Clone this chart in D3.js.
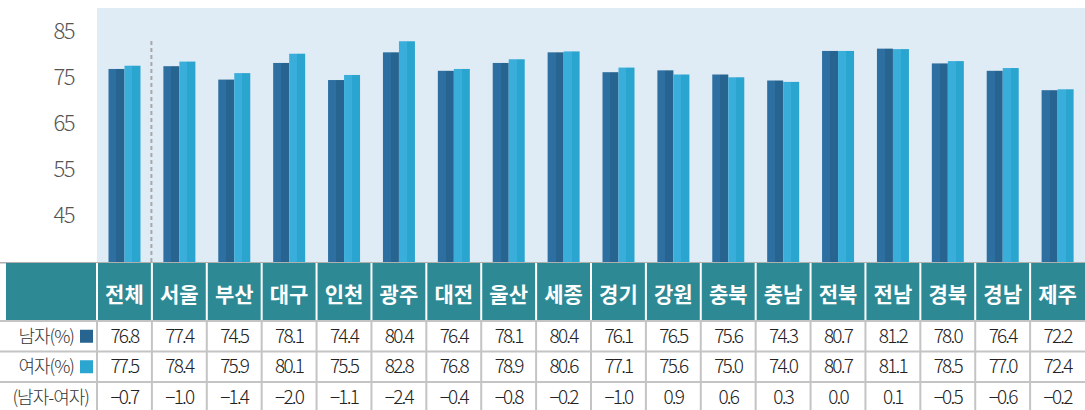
<!DOCTYPE html>
<html><head><meta charset="utf-8">
<script src="https://cdn.jsdelivr.net/npm/d3@7"></script>
<style>
html,body{margin:0;padding:0;background:#fff;}
svg{display:block;font-family:"Noto Sans CJK KR","Noto Sans",sans-serif;}
</style></head>
<body><svg id="c" width="1085" height="410"></svg>
<script>
const categories = ["전체","서울","부산","대구","인천","광주","대전","울산","세종","경기","강원","충북","충남","전북","전남","경북","경남","제주"];
const male   = [76.8,77.4,74.5,78.1,74.4,80.4,76.4,78.1,80.4,76.1,76.5,75.6,74.3,80.7,81.2,78.0,76.4,72.2];
const female = [77.5,78.4,75.9,80.1,75.5,82.8,76.8,78.9,80.6,77.1,75.6,75.0,74.0,80.7,81.1,78.5,77.0,72.4];
const diffLabels = ["−0.7","−1.0","−1.4","−2.0","−1.1","−2.4","−0.4","−0.8","−0.2","−1.0","0.9","0.6","0.3","0.0","0.1","−0.5","−0.6","−0.2"];
const yTicks = [45,55,65,75,85];
const seriesNames = ["남자(%)","여자(%)"];
const rowLabel3 = "(남자-여자)";

const svg = d3.select("#c");
const W = 1085, H = 410;
const plotL = 97, plotT = 8, plotB = 262;

const x = d3.scaleBand().domain(categories).range([plotL, W]).padding(0);
const xs = d3.scaleBand().domain(seriesNames).range([11.5, 43.5]).padding(0);
const y = d3.scaleLinear().domain([35, 90]).range([plotB, plotT]);

const defs = svg.append("defs");
function grad(id, c1, c2){
  const g = defs.append("linearGradient").attr("id", id).attr("x1","0").attr("x2","1").attr("y1","0").attr("y2","0");
  g.append("stop").attr("offset","0%").attr("stop-color",c1);
  g.append("stop").attr("offset","50%").attr("stop-color",c1);
  g.append("stop").attr("offset","50%").attr("stop-color",c2);
  g.append("stop").attr("offset","100%").attr("stop-color",c2);
}
grad("gm", "#2d6fa0", "#27648f");
grad("gf", "#3aaedb", "#2aa5cf");

svg.append("rect").attr("x", plotL).attr("y", plotT).attr("width", W - plotL).attr("height", plotB - plotT).attr("fill", "#dfebf5");

const yAxis = d3.axisLeft(y).tickValues(yTicks).tickSize(0).tickPadding(0);
const gy = svg.append("g").attr("transform", "translate(74,0)").call(yAxis);
gy.select(".domain").remove();
gy.selectAll("text").attr("font-size", 22).attr("fill", "#555").attr("font-weight", 300)
  .attr("letter-spacing", "-1.5px").attr("font-family", "'Noto Sans CJK KR',sans-serif");

const data = categories.map((c,i)=>({c, v:[male[i], female[i]]}));
const groups = svg.append("g").selectAll("g").data(data).join("g")
  .attr("transform", d => `translate(${x(d.c)},0)`);
groups.selectAll("rect").data(d => d.v.map((v,j)=>({s: seriesNames[j], v, j}))).join("rect")
  .attr("x", d => xs(d.s)).attr("width", xs.bandwidth())
  .attr("y", d => y(d.v)).attr("height", d => plotB - y(d.v))
  .attr("fill", d => d.j === 0 ? "url(#gm)" : "url(#gf)");

svg.append("line").attr("x1", x(categories[1]) - 0.5).attr("x2", x(categories[1]) - 0.5)
  .attr("y1", 41).attr("y2", plotB).attr("stroke", "#a8a8a8").attr("stroke-width", 2).attr("stroke-dasharray", "4,3");

svg.append("rect").attr("x", 0).attr("y", plotB).attr("width", W).attr("height", 1.5).attr("fill", "#b0b0b0");

const hTop = 263, hBot = 320;
const rows = [321, 351.5, 382, 412];
svg.append("rect").attr("x", 6).attr("y", hTop).attr("width", W - 6).attr("height", hBot - hTop).attr("fill", "#2d8a95");
categories.forEach(c => {
  svg.append("rect").attr("x", x(c) - 1).attr("y", hTop).attr("width", 2).attr("height", hBot - hTop).attr("fill", "#ffffff");
});
svg.append("g").selectAll("text").data(categories).join("text")
  .attr("x", d => x(d) + x.bandwidth()/2).attr("y", 301.5)
  .attr("text-anchor", "middle").attr("fill", "#fff").attr("font-size", 21).attr("font-weight", 700)
  .text(d => d);

rows.slice(0,3).forEach(r => {
  svg.append("rect").attr("x", 0).attr("y", r - 1).attr("width", W).attr("height", 2).attr("fill", "#c4c4c4");
});
categories.forEach(c => {
  svg.append("rect").attr("x", x(c) - 1).attr("y", hBot).attr("width", 2).attr("height", H - hBot).attr("fill", "#c4c4c4");
});

const rowData = [male.map(v => v.toFixed(1)), female.map(v => v.toFixed(1)), diffLabels];
rowData.forEach((arr, ri) => {
  const cy = (rows[ri] + rows[ri+1]) / 2;
  svg.append("g").selectAll("text").data(arr).join("text")
    .attr("x", (d,i) => x(categories[i]) + x.bandwidth()/2).attr("y", cy + 6.5)
    .attr("text-anchor", "middle").attr("fill", "#222").attr("font-size", 19)
    .attr("letter-spacing", "-1.8px").attr("font-weight", 300)
    .text(d => d);
});
const labels = [seriesNames[0], seriesNames[1], rowLabel3];
labels.forEach((l, ri) => {
  const cy = (rows[ri] + rows[ri+1]) / 2;
  svg.append("text").attr("x", ri < 2 ? 74 : 89).attr("y", cy + 6.5).attr("text-anchor", "end")
    .attr("fill", "#333").attr("font-size", 18).attr("font-weight", 300).attr("letter-spacing", "-1px").text(l);
});
[["#27648f",0],["#2aa6d0",1]].forEach(([col, ri]) => {
  const cy = (rows[ri] + rows[ri+1]) / 2;
  svg.append("rect").attr("x", 80).attr("y", cy - 6.5).attr("width", 13).attr("height", 13).attr("fill", col);
});
</script></body></html>
